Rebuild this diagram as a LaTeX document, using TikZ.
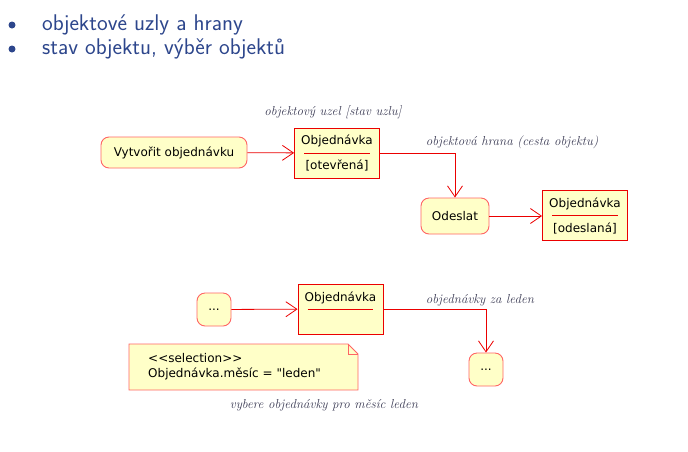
\documentclass[tikz,border=0pt]{standalone}
\usepackage{fontspec}
\usetikzlibrary{arrows.meta}
\newfontfamily\umlfont{DejaVu Sans}
\definecolor{umlfill}{RGB}{255,255,200}
\definecolor{umlred}{RGB}{235,0,0}
\definecolor{umlpink}{RGB}{255,100,100}
\definecolor{slide}{RGB}{45,70,140}
\definecolor{popisek}{RGB}{60,60,85}
\tikzset{
  akce/.style={draw=umlpink,fill=umlfill,rounded corners=8pt,line width=0.9pt,
    font=\umlfont\fontsize{12}{14}\selectfont,inner sep=0pt},
  objekt/.style={draw=umlred,fill=umlfill,line width=0.9pt,minimum width=85pt,
    minimum height=50pt,align=center,inner sep=0pt,
    font=\umlfont\fontsize{12}{25}\selectfont},
  popis/.style={font=\itshape\fontsize{13}{15}\selectfont,text=popisek},
  hrana/.style={draw=umlred,line width=0.8pt,-{Straight Barb[length=11pt,width=15pt]}}
}
\begin{document}
\begin{tikzpicture}[x=1pt,y=-1pt]
  \useasboundingbox (0,0) rectangle (688,451);
  \foreach \y/\t in {30/{objektové uzly a hrany},54/{stav objektu, výběr objektů}}{
    \fill[slide] (12,\y-5) circle (3.5pt);
    \node[anchor=base west,inner sep=0pt,text=slide,font=\sffamily\fontsize{22.7}{26}\selectfont] at (42,\y) {\t};
  }
  \node[akce,minimum width=146pt,minimum height=31pt] (vytvorit) at (174,152.5) {Vytvořit objednávku};
  \node[objekt] (otevrena) at (337,153) {Objednávka\\{}[otevřená]};
  \node[akce,minimum width=68pt,minimum height=36pt] (odeslat) at (455,216) {Odeslat};
  \node[objekt] (odeslana) at (585,215.5) {Objednávka\\{}[odeslaná]};
  \node[akce,minimum width=34pt,minimum height=33pt] (zacatek) at (214,309.5) {...};
  \node[objekt] (vyber) at (340.5,309) {Objednávka\\~};
  \node[akce,minimum width=34pt,minimum height=33pt] (konec) at (486,369.5) {...};
  \foreach \o in {otevrena,odeslana,vyber}
    \draw[umlred,line width=0.8pt] ([xshift=10pt]\o.west) -- ([xshift=-10pt]\o.east);
  \draw[hrana] (vytvorit) -- (otevrena);
  \draw[hrana] (otevrena.east) -| (odeslat.north);
  \draw[hrana] (odeslat.east) -- (odeslat.east -| odeslana.west);
  \draw[hrana] (zacatek) -- (vyber);
  \draw[hrana] (vyber.east) -| (konec.north);
  \node[popis] (uzel) at (333,112) {objektový uzel [stav uzlu]};
  \node[popis] (cesta) at (512,142) {objektová hrana (cesta objektu)};
  \node[popis] (leden) at (480,300) {objednávky za leden};
  \node[popis] (vybere) at (324,405) {vybere objednávky pro měsíc leden};
  \draw[umlpink,fill=umlfill,line width=0.9pt] (129,344) -- (348,344) -- (358,354) -- (358,390) -- (129,390) -- cycle;
  \draw[umlpink,line width=0.9pt] (348,344) |- (358,354);
  \node[anchor=west,align=left,inner sep=0pt,font=\umlfont\fontsize{12}{15}\selectfont] (selekce) at (148,366.5)
    {<{}<selection>{}>\\Objednávka.měsíc = "leden"};
\end{tikzpicture}
\end{document}
